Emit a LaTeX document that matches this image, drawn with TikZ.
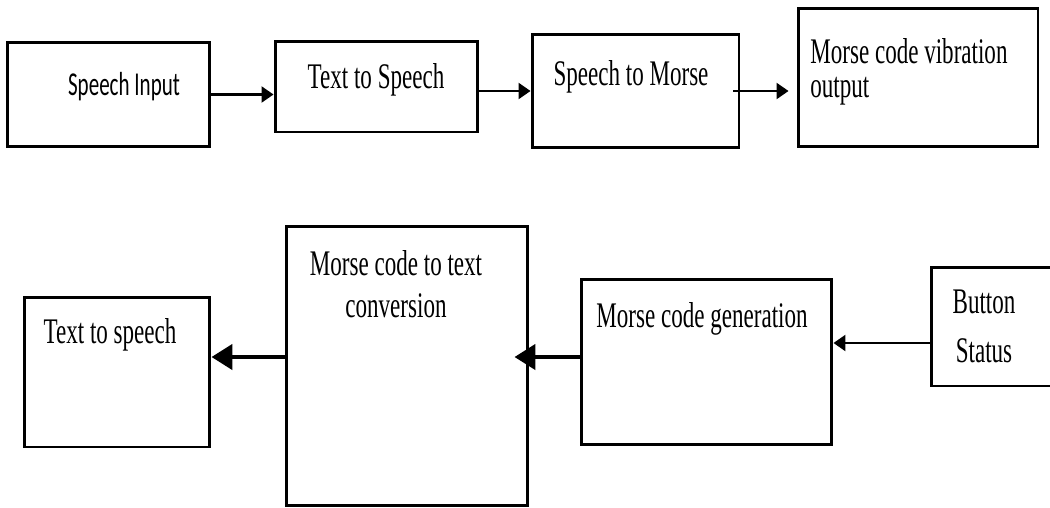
\documentclass[tikz,border=0pt]{standalone}
\usepackage{fontspec}
\setmainfont{Liberation Serif}[FakeStretch=0.64]
\newfontfamily\inputfont{Carlito}[FakeStretch=0.63]
\usetikzlibrary{arrows.meta}

\begin{document}
\begin{tikzpicture}[
    x=0.02cm, y=-0.02cm,
    block/.style={draw, line width=1.7pt, inner sep=0},
    txt/.style={inner sep=0, anchor=base, font=\fontsize{20.5}{24}\selectfont},
    flow/.style={-{Triangle[length=0.24cm,width=0.32cm]}, line width=1.3pt},
    back/.style={-{Triangle[length=0.42cm,width=0.5cm]}, line width=2.6pt}
]
    \useasboundingbox (0,0) rectangle (1050,507);

    % Upper chain
    \node[block, minimum width=4.06cm, minimum height=2.10cm] (input) at (108.5,94.5) {};
    \node[block, minimum width=4.06cm, minimum height=1.82cm] (tts) at (376.5,86.5) {};
    \node[block, minimum width=4.14cm, minimum height=2.28cm] (s2m) at (635.5,91) {};
    \node[block, minimum width=4.80cm, minimum height=2.78cm] (vib) at (918,77.5) {};

    \node[txt, font=\inputfont\fontsize{19}{23}\selectfont] (input-t) at (124,95) {Speech Input};
    \node[txt] (tts-t) at (376,88) {Text to Speech};
    \node[txt] (s2m-t) at (631,85) {Speech to Morse};
    \node[txt, anchor=base west, align=left, font=\fontsize{20.5}{19.3}\selectfont] (vib-t) at (810,97) {Morse code vibration\\output};

    % Lower chain
    \node[block, minimum width=3.72cm, minimum height=3.00cm] (spk) at (117,372) {};
    \node[block, minimum width=4.84cm, minimum height=5.60cm] (conv) at (407,366) {};
    \node[block, minimum width=5.02cm, minimum height=3.32cm] (gen) at (706.5,362) {};
    \node[block, minimum width=2.44cm, minimum height=2.38cm] (btn) at (992,326.5) {};

    \node[txt] (spk-t) at (110,343) {Text to speech};
    \node[txt, align=center, font=\fontsize{20.5}{23.8}\selectfont] (conv-t) at (396,317) {Morse code to text\\conversion};
    \node[txt] (gen-t) at (702,327) {Morse code generation};
    \node[txt, align=center, font=\fontsize{20.5}{27.8}\selectfont] (btn-t) at (984,362) {Button\\Status};

    % Connections
    \draw[flow] (input.east) -- (input.east -| tts.west);
    \draw[flow] (s2m.west -| tts.east) -- (s2m.west);
    \draw[flow, shorten <=-0.14cm, shorten >=0.16cm] (s2m.east) -- (s2m.east -| vib.west);

    \draw[flow] ([yshift=-0.33cm]btn.west) -- ([yshift=-0.33cm]btn.west -| gen.east);
    \draw[back, shorten >=-0.3cm] ([yshift=0.1cm]gen.west) -- ([yshift=0.1cm]gen.west -| conv.east);
    \draw[back] ([yshift=0.18cm]conv.west) -- ([yshift=0.18cm]conv.west -| spk.east);
\end{tikzpicture}
\end{document}
